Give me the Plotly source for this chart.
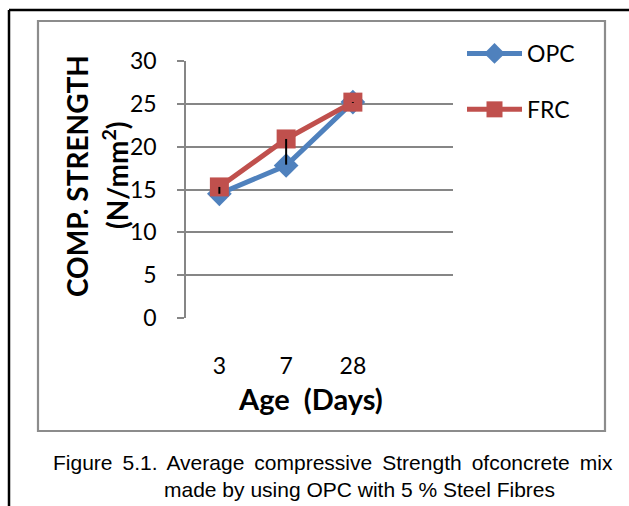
import plotly.graph_objects as go

# ---- data ----
ages = ["3", "7", "28"]
opc = [14.5, 17.8, 25.2]
frc = [15.3, 20.9, 25.2]
bar_minus = [0.8, 3.0, 0.1]   # black vertical bars hanging below FRC points
y_ticks = [0, 5, 10, 15, 20, 25, 30]

W, H = 629, 506
L, R, T, B = 186, 453, 61, 318   # plot area in pixels

def px(x):
    return (x - L) / (R - L)

def py(y):
    return (B - y) / (B - T)

xpos = list(range(len(ages)))

fig = go.Figure()
fig.add_trace(go.Scatter(
    x=xpos, y=opc, name="OPC", mode="lines+markers",
    line=dict(color="#4F81BD", width=5),
    marker=dict(symbol="diamond", size=19, color="#4F81BD"),
    legendgroup="a",
))
fig.add_trace(go.Scatter(
    x=xpos, y=frc, name="FRC", mode="lines+markers",
    line=dict(color="#C0504D", width=5),
    marker=dict(symbol="square", size=19, color="#C0504D"),
    legendgroup="b",
))
fig.add_trace(go.Scatter(
    x=xpos, y=frc, mode="markers", showlegend=False,
    marker=dict(size=1, color="rgba(0,0,0,0)"),
    error_y=dict(type="data", symmetric=False, array=[0] * len(frc),
                 arrayminus=bar_minus, color="black", thickness=2, width=0),
    hoverinfo="skip",
))

font_main = "Lato, Carlito, Calibri, sans-serif"
font_cap = "Liberation Sans, Arial, sans-serif"
grid_col = "#868686"

fig.update_layout(
    width=W, height=H,
    margin=dict(l=L, r=W - R, t=T, b=H - B, pad=0),
    paper_bgcolor="white", plot_bgcolor="white",
    font=dict(family=font_main, color="black", size=20),
    showlegend=True,
    legend=dict(
        x=px(462), y=py(32), xanchor="left", yanchor="top",
        font=dict(size=23, family=font_main),
        traceorder="grouped", tracegroupgap=23,
        itemwidth=55, bgcolor="rgba(0,0,0,0)",
    ),
    xaxis=dict(
        range=[-0.5, 3.5], tickvals=xpos, ticktext=ages,
        showgrid=False, zeroline=False, showline=False,
        ticks="", ticklabelstandoff=32,
        tickfont=dict(size=23, family=font_main),
        fixedrange=True,
    ),
    yaxis=dict(
        range=[0, 30], tickvals=y_ticks,
        showgrid=True, gridcolor=grid_col, gridwidth=1.5,
        zeroline=False, showline=True, linecolor=grid_col, linewidth=1.5,
        ticks="outside", ticklen=7, tickcolor=grid_col, tickwidth=1.5,
        ticklabelstandoff=16,
        tickfont=dict(size=23, family=font_main),
        fixedrange=True,
    ),
    shapes=[
        # gray chart border
        dict(type="rect", xref="paper", yref="paper",
             x0=px(38), x1=px(605), y0=py(431), y1=py(21),
             line=dict(color="#8C8C8C", width=2.2), layer="below"),
        # black frame (top and left)
        dict(type="line", xref="paper", yref="paper",
             x0=px(9), x1=px(640), y0=py(10), y1=py(10),
             line=dict(color="black", width=2.5)),
        dict(type="line", xref="paper", yref="paper",
             x0=px(9), x1=px(9), y0=py(10), y1=py(520),
             line=dict(color="black", width=2.5)),
    ],
    annotations=[
        dict(text="<b>COMP. STRENGTH</b>", xref="paper", yref="paper",
             x=px(77), y=py(176), textangle=-90, showarrow=False,
             font=dict(size=28, family=font_main), xanchor="center", yanchor="middle"),
        dict(text="<b>(N/mm<sup>2</sup>)</b>", xref="paper", yref="paper",
             x=px(115), y=py(176), textangle=-90, showarrow=False,
             font=dict(size=28, family=font_main), xanchor="center", yanchor="middle"),
        dict(text="<b>Age  (Days)</b>", xref="paper", yref="paper",
             x=px(310), y=py(398), showarrow=False,
             font=dict(size=29, family=font_main), xanchor="center", yanchor="middle"),
        dict(text="Figure\u2009 5.1.\u2009 Average\u2009 compressive\u2009 Strength\u2009 ofconcrete\u2009 mix",
             xref="paper", yref="paper", x=px(333), y=py(462), showarrow=False,
             font=dict(size=21, family=font_cap),
             xanchor="center", yanchor="middle"),
        dict(text="made by using OPC with 5 % Steel Fibres",
             xref="paper", yref="paper", x=px(359), y=py(490), showarrow=False,
             font=dict(size=21, family=font_cap),
             xanchor="center", yanchor="middle"),
    ],
)

fig.write_html("out.html")
